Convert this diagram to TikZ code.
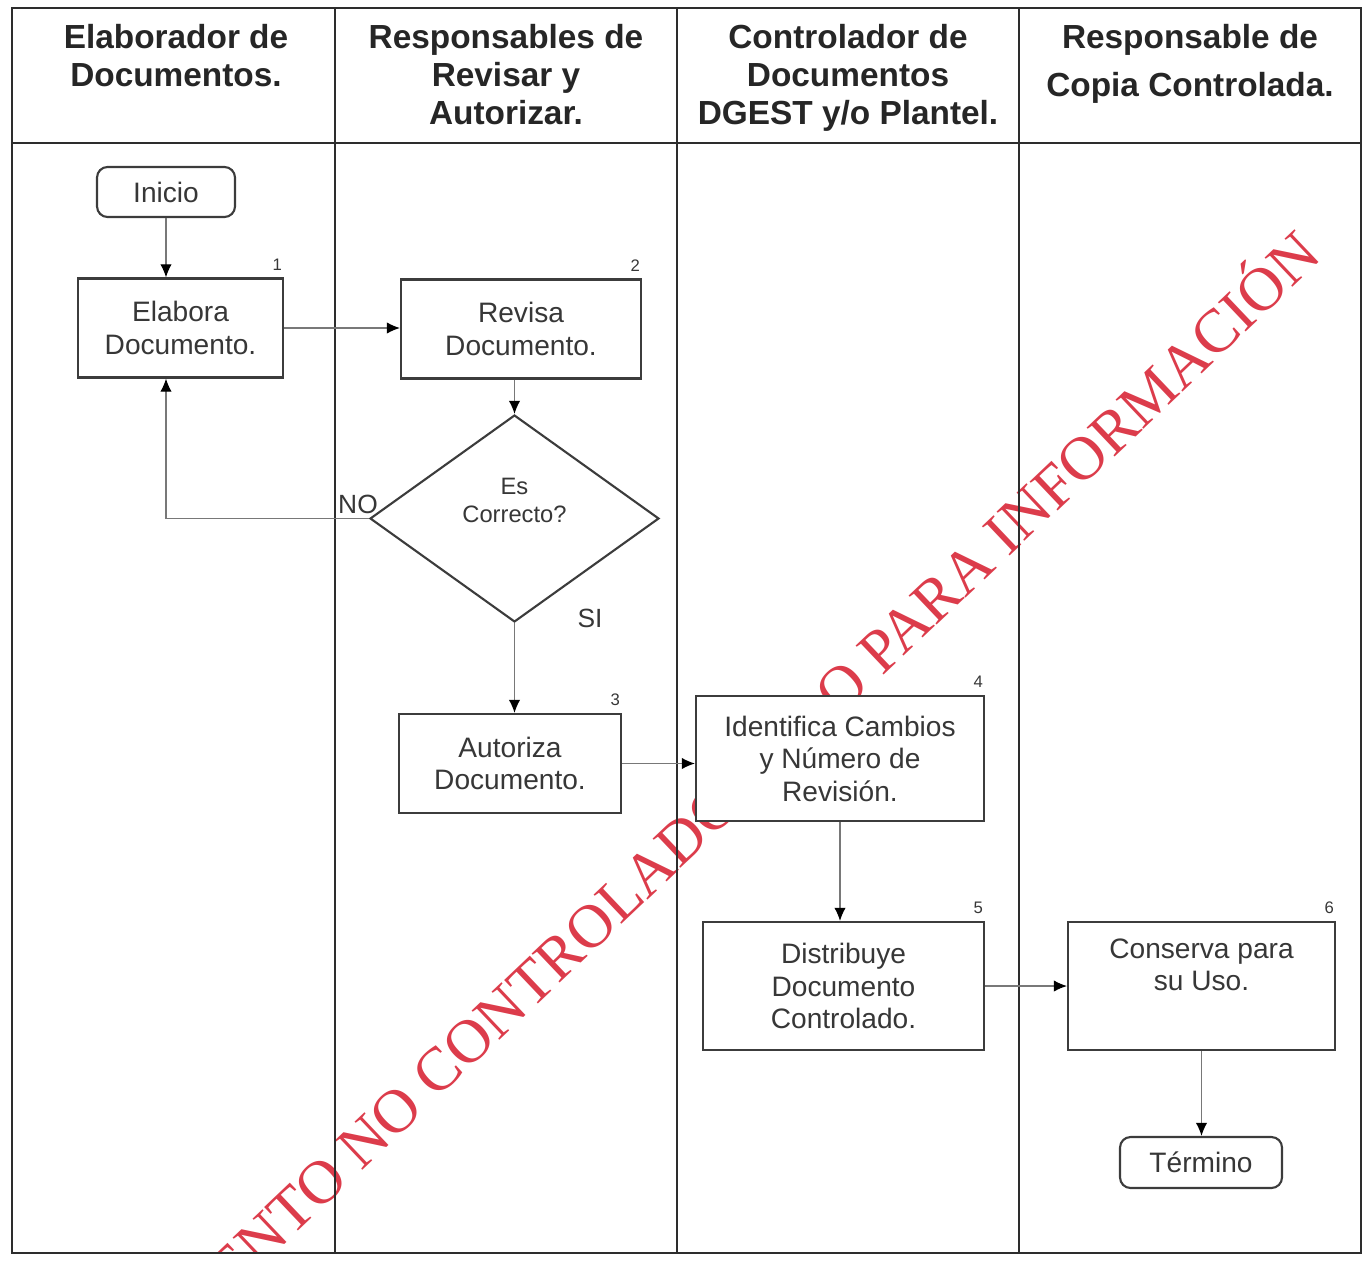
\documentclass[tikz,border=0pt]{standalone}
\usepackage{fontspec}
\setmainfont{Liberation Sans}
\newfontfamily\sellofont{Liberation Serif}
\usepackage{tikz}
\usetikzlibrary{arrows, arrows.meta, positioning, shapes.geometric}
\definecolor{marco}{RGB}{45,45,45}
\definecolor{borde}{RGB}{60,60,60}
\definecolor{linea}{RGB}{120,120,120}
\definecolor{texto}{RGB}{55,55,55}
\definecolor{sello}{RGB}{220,60,75}

\begin{document}
\begin{tikzpicture}[x=0.02cm, y=-0.02cm,
    caja/.style={draw=borde, line width=1.2pt, fill=white, align=center, text=texto,
                 font=\fontsize{16}{18.5}\selectfont},
    term/.style={caja, rounded corners=6pt},
    num/.style={font=\fontsize{9.5}{11}\selectfont, text=texto, inner xsep=1pt, inner ysep=4pt,
                anchor=south east},
    encab/.style={font=\bfseries\fontsize{19}{21.5}\selectfont, text=black!85, align=center,
                  anchor=north, inner sep=0pt},
    flecha/.style={draw=linea, line width=0.7pt, -{Latex[length=7.5pt,width=6.5pt,color=black]}}]
\useasboundingbox (0,0) rectangle (1372,1264);

% sello rojo
\begin{scope}
\clip (12,8) rectangle (1361,1253);
\node [anchor=base, rotate=43.5, text=sello, font=\sellofont\fontsize{35}{40}\selectfont] (sello)
    at (695,855) {DOCUMENTO NO CONTROLADO SOLO PARA INFORMACIÓN};
\end{scope}

% carriles
\draw [marco, line width=1.6pt] (12,8) rectangle (1361,1253);
\draw [marco, line width=1.6pt] (12,143) -- (1361,143);
\foreach \x in {335, 677, 1019}
    \draw [marco, line width=1.2pt] (\x,8) -- (\x,1253);

\node [encab] (H1) at (176,24) {Elaborador de\\Documentos.};
\node [encab] (H2) at (506,24) {Responsables de\\Revisar y\\Autorizar.};
\node [encab] (H3) at (848,24) {Controlador de\\Documentos\\DGEST y/o Plantel.};
\node [encab] (H4) at (1190,24) {Responsable de\\[6pt]Copia Controlada.};

\node [term, minimum width=2.76cm, minimum height=1cm] (ini) at (166,192) {Inicio};

\node [caja, minimum width=4.1cm, minimum height=1.98cm] (B1) at (180.5,328) {Elabora\\Documento.};
\node [caja, minimum width=4.8cm, minimum height=1.98cm] (B2) at (521,329) {Revisa\\Documento.};

\node [caja, shape=diamond, inner sep=0pt, minimum width=5.78cm, minimum height=4.14cm,
       font=\fontsize{13.5}{16}\selectfont] (dec) at (514.5,518.5) {Es\\Correcto?\\\strut};

\node [caja, minimum width=4.44cm, minimum height=1.98cm] (B3) at (510,763.5) {Autoriza\\Documento.};
\node [caja, minimum width=5.76cm, minimum height=2.5cm] (B4) at (840,758.5) {Identifica Cambios\\y Número de\\Revisión.};
\node [caja, minimum width=5.62cm, minimum height=2.56cm] (B5) at (843.5,986) {Distribuye\\Documento\\Controlado.};
\node [caja, minimum width=5.34cm, minimum height=2.56cm] (B6) at (1201.5,986) {Conserva para\\su Uso.\\\strut};

\node [term, minimum width=3.24cm, minimum height=1.02cm] (fin) at (1201,1162.5) {Término};

\node [num] (N1) at (B1.north east) {1};
\node [num] (N2) at (B2.north east) {2};
\node [num] (N3) at (B3.north east) {3};
\node [num] (N4) at (B4.north east) {4};
\node [num] (N5) at (B5.north east) {5};
\node [num] (N6) at (B6.north east) {6};

\node [font=\fontsize{15}{17}\selectfont, text=texto] (no) at (358,504) {NO};
\node [font=\fontsize{15}{17}\selectfont, text=texto] (si) at (590,618) {SI};

\foreach \s/\t in {ini.south/B1.north -| ini,
                   B1.east/B1.east -| B2.west,
                   dec.north |- B2.south/dec.north,
                   dec.south/dec.south |- B3.north,
                   B3.east/B3.east -| B4.west,
                   B4.south/B4.south |- B5.north,
                   B5.east/B5.east -| B6.west,
                   B6.south/B6.south |- fin.north}
    \draw [flecha] (\s) -- (\t);

\draw [flecha] (dec.west) -| (B1.south -| ini);

\end{tikzpicture}
\end{document}
